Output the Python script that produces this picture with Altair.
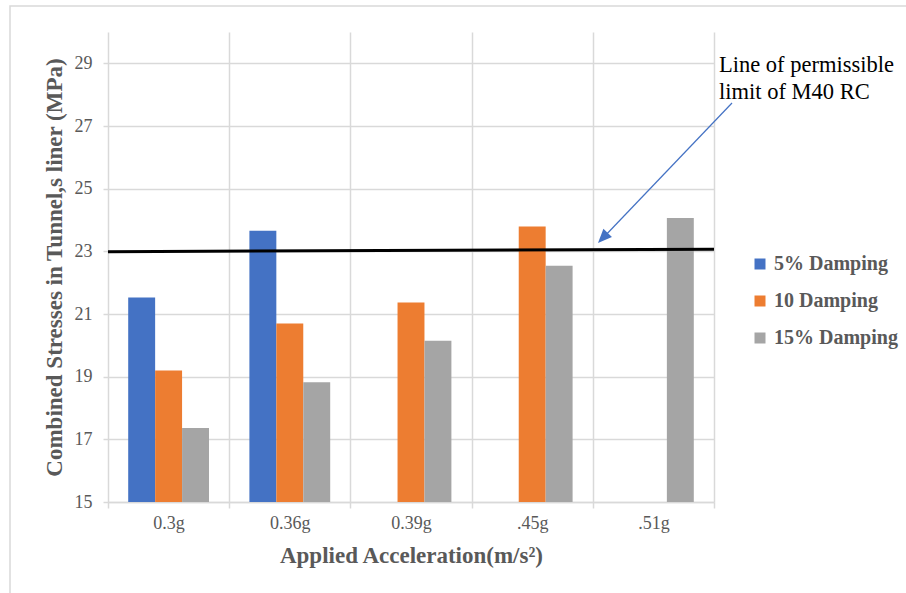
import altair as alt
import pandas as pd

# Applied acceleration levels (x categories) and damping series
accel = ["0.3g", "0.36g", "0.39g", ".45g", ".51g"]
series = ["5% Damping", "10 Damping", "15% Damping"]

# Combined stresses in the tunnel liner (MPa); None = no bar drawn
damp5 = [21.53, 23.66, None, None, None]
damp10 = [19.20, 20.70, 21.37, 23.79, None]
damp15 = [17.36, 18.82, 20.15, 22.54, 24.06]

colors = ["#4472C4", "#ED7D31", "#A5A5A5"]
y_ticks = [15, 17, 19, 21, 23, 25, 27, 29]
y_domain = [15, 30]
# permissible limit line of M40 RC (value at left end, value at right end)
limit_y = [22.99, 23.07]

rows = []
for name, vals in zip(series, [damp5, damp10, damp15]):
    for a, v in zip(accel, vals):
        if v is not None:
            rows.append({"accel": a, "series": name, "stress": v})
df = pd.DataFrame(rows)

W, H = 606, 470
FONT = "Liberation Serif"
TEXT = "#595959"
GRID = "#d9d9d9"
ARROW = "#4472C4"

one = pd.DataFrame({"k": [0]})

bars = alt.Chart(df).mark_bar().encode(
    x=alt.X(
        "accel:N",
        sort=accel,
        scale=alt.Scale(domain=accel, paddingInner=0, paddingOuter=0),
        axis=alt.Axis(
            title="Applied Acceleration(m/s²)",
            tickBand="extent",
            labelAngle=0,
            grid=True,
            gridColor=GRID,
            gridWidth=1.5,
            domainColor=GRID,
            domainWidth=1.5,
            tickColor=GRID,
            tickWidth=1.5,
            tickSize=6,
            labelFont=FONT,
            labelFontSize=18,
            labelColor=TEXT,
            labelPadding=6,
            titleFont=FONT,
            titleFontSize=23,
            titleFontWeight="bold",
            titleColor=TEXT,
            titleX=W / 2,
            titleY=53,
            titleBaseline="middle",
            titleAlign="center",
        ),
    ),
    xOffset=alt.XOffset(
        "series:N",
        scale=alt.Scale(domain=series, paddingInner=0, paddingOuter=0.75),
    ),
    y=alt.Y(
        "stress:Q",
        scale=alt.Scale(domain=y_domain, nice=False, zero=False),
        axis=alt.Axis(
            title="Combined Stresses in Tunnel,s liner (MPa)",
            values=y_ticks,
            domain=False,
            grid=True,
            gridColor=GRID,
            gridWidth=1.5,
            tickColor=GRID,
            tickWidth=1.5,
            tickSize=5,
            labelFont=FONT,
            labelFontSize=18,
            labelColor=TEXT,
            labelPadding=11,
            titleFont=FONT,
            titleFontSize=23,
            titleFontWeight="bold",
            titleColor=TEXT,
            titleX=-54,
            titleY=H / 2,
            titleBaseline="middle",
            titleAlign="center",
        ),
    ),
    y2=alt.datum(y_domain[0]),
    color=alt.Color(
        "series:N",
        scale=alt.Scale(domain=series, range=colors),
        legend=alt.Legend(
            title=None,
            orient="none",
            legendX=642,
            legendY=222,
            padding=0,
            symbolType="square",
            symbolSize=121,
            symbolStrokeWidth=0,
            labelFont=FONT,
            labelFontSize=20,
            labelFontWeight="bold",
            labelColor=TEXT,
            labelOffset=4,
            rowPadding=17,
        ),
    ),
)

# permissible stress limit line
limit = alt.Chart(one).mark_rule(color="black", strokeWidth=3).encode(
    x=alt.value(0),
    x2=alt.value(W),
    y=alt.datum(limit_y[0]),
    y2=alt.datum(limit_y[1]),
)

# annotation arrow pointing at the limit line
arrow_line = alt.Chart(one).mark_rule(color=ARROW, strokeWidth=1.2).encode(
    x=alt.value(624), y=alt.value(71), x2=alt.value(494), y2=alt.value(207)
)
arrow_head = alt.Chart(one).mark_point(
    shape="M0,0 L0.42,1 L-0.42,1 Z",
    size=784,
    angle=223.7,
    filled=True,
    color=ARROW,
    opacity=1,
).encode(x=alt.value(490), y=alt.value(211))

note = alt.Chart(one).mark_text(
    text=["Line of permissible", "limit of M40 RC"],
    align="left",
    baseline="top",
    font=FONT,
    fontSize=22.5,
    lineHeight=27,
    color="black",
).encode(x=alt.value(611), y=alt.value(22))

# light frame around the whole figure
frame = alt.Chart(one).mark_rect(fillOpacity=0, stroke=GRID, strokeWidth=1.5).encode(
    x=alt.value(-98), x2=alt.value(W + 200), y=alt.value(-26), y2=alt.value(H + 100)
)

chart = (
    alt.layer(frame, bars, limit, arrow_line, arrow_head, note)
    .properties(
        width=W,
        height=H,
        autosize="none",
        padding={"left": 108, "top": 32, "right": 192, "bottom": 91},
        background="white",
    )
    .configure_view(stroke="transparent")
)

chart.save("out.html", embed_options={"renderer": "svg", "actions": False})
